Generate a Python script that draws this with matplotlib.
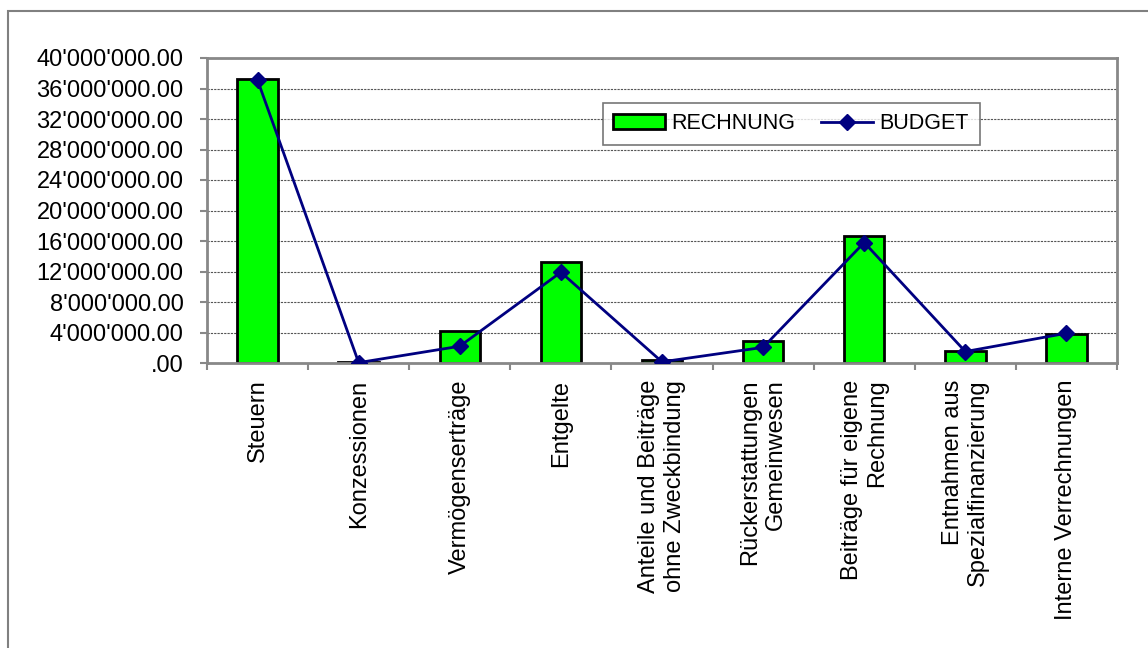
import matplotlib
matplotlib.use("Agg")
import matplotlib.pyplot as plt
from matplotlib.ticker import FuncFormatter, MultipleLocator
from matplotlib.patches import Rectangle
import numpy as np

# Kategorien und Werte (in CHF)
kategorien = ["Steuern", "Konzessionen", "Vermögenserträge", "Entgelte",
              "Anteile und Beiträge\nohne Zweckbindung", "Rückerstattungen\nGemeinwesen",
              "Beiträge für eigene\nRechnung", "Entnahmen aus\nSpezialfinanzierung",
              "Interne Verrechnungen"]
rechnung = [37200000, 120000, 4200000, 13200000, 400000, 2900000, 16700000, 1600000, 3750000]
budget = [37100000, 50000, 2200000, 11900000, 150000, 2050000, 15800000, 1500000, 3900000]

plt.rcParams['font.family'] = ['Liberation Sans', 'DejaVu Sans']

fig = plt.figure(figsize=(11.48, 6.48), dpi=100)
W, H = 1148, 648
ax = fig.add_axes([207 / W, 1 - 363 / H, (1117 - 207) / W, (363 - 58) / H])

x = np.arange(len(kategorien))
bars = ax.bar(x, rechnung, width=0.4, color="#00FF00", edgecolor="black", linewidth=2,
              label="RECHNUNG", zorder=2)
line, = ax.plot(x, budget, color="#000080", linewidth=2, marker="D", markersize=8,
                label="BUDGET", zorder=3)

ax.set_xlim(-0.5, len(kategorien) - 0.5)
ax.set_ylim(0, 40000000)
ax.yaxis.set_major_locator(MultipleLocator(4000000))


def fmt(v, pos):
    if v == 0:
        return ".00"
    return "{:,.2f}".format(v).replace(",", "'")


ax.yaxis.set_major_formatter(FuncFormatter(fmt))
ax.grid(axis="y", color="#555555", linestyle=(0, (2, 1)), linewidth=0.8, zorder=0)

# x-Ticks: Striche zwischen den Kategorien, Beschriftung in der Mitte
ax.set_xticks(x)
ax.set_xticklabels(kategorien, rotation=90, ha="center", va="top",
                   multialignment="right", fontsize=17)
ax.set_xticks(np.arange(-0.5, len(kategorien)), minor=True)
ax.tick_params(axis="x", which="major", length=0, pad=12)
ax.tick_params(axis="x", which="minor", length=5, width=1.5, color="#888888")
ax.tick_params(axis="y", length=5, width=1.5, color="#888888", pad=12, labelsize=17)

for s in ax.spines.values():
    s.set_color("#888888")
    s.set_linewidth(2)

leg = ax.legend([bars, line], ["RECHNUNG", "BUDGET"], loc="center",
                bbox_to_anchor=(0.642, 0.784), ncol=2, fontsize=15.5,
                frameon=True, fancybox=False, edgecolor="#555555", handlelength=2.4,
                columnspacing=1.2, handletextpad=0.3, borderpad=0.5)
leg.get_frame().set_linewidth(1.2)

# Rahmen um das Diagramm
fig.patches.append(Rectangle((8 / W, -0.1), 2, 1 - 11 / H + 0.1, transform=fig.transFigure,
                             fill=False, edgecolor="#808080", linewidth=1.5))

fig.savefig("out.png", dpi=100)
